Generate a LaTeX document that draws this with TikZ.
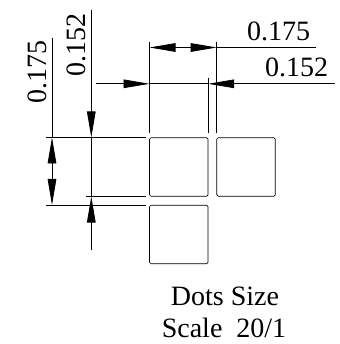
\documentclass[tikz,border=0pt]{standalone}
\usepackage{fontspec}
\setmainfont{Liberation Serif}
\usetikzlibrary{arrows.meta}
\usetikzlibrary{calc}

\tikzset{
  dot/.style={draw, line width=0.7pt, rounded corners=1.5pt, minimum size=58.5pt, inner sep=0pt, outer sep=0pt},
  dim/.style={line width=0.8pt},
  dimarrow/.style={line width=0.8pt, -{Triangle[length=26pt,width=8.6pt]}},
  dimtext/.style={inner sep=0pt, outer sep=0pt, font=\fontsize{28}{32}\selectfont}
}

\begin{document}
\begin{tikzpicture}[x=1pt, y=-1pt]
      \useasboundingbox (0, 0) rectangle (339, 344);

      \node[dot] (1) at (178.75, 167){};
      \node[dot] (2) at (246, 167){};
      \node[dot] (3) at (178.75, 234.5){};

      % left side
      \coordinate (a1) at (46, 137.5);
      \coordinate (a2) at (146, 137.5);
      \coordinate (b1) at (86, 196.5);
      \coordinate (b2) at (146, 196.5);
      \coordinate (c1) at (46, 205);
      \coordinate (c2) at (146, 205);
      \coordinate (d1) at (52, 38);
      \coordinate (d2) at (52, 137.5);
      \coordinate (d3) at (52, 205);
      \coordinate (e1) at (91.3, 10);
      \coordinate (e2) at (91.3, 137.5);
      \coordinate (e3) at (91.3, 196.5);
      \coordinate (e4) at (91.3, 250);

      % top side
      \coordinate (f1) at (149.5, 42);
      \coordinate (f2) at (149.5, 133.5);
      \coordinate (g1) at (208.2, 78);
      \coordinate (g2) at (208.2, 133.5);
      \coordinate (h1) at (216.7, 42);
      \coordinate (h2) at (216.7, 133.5);
      \coordinate (k1) at (149.5, 47.5);
      \coordinate (k2) at (216.7, 47.5);
      \coordinate (k3) at (315.7, 47.5);
      \coordinate (m1) at (96, 83.8);
      \coordinate (m2) at (149.5, 83.8);
      \coordinate (m3) at (208.2, 83.8);
      \coordinate (m4) at (335, 83.8);

      \draw[dim] (a1) -- (a2);
      \draw[dim] (b1) -- (b2);
      \draw[dim] (c1) -- (c2);
      \draw[dim] (f1) -- (f2);
      \draw[dim] (g1) -- (g2);
      \draw[dim] (h1) -- (h2);
      \draw[dim] (d1) -- (d2);
      \draw[dim] (e2) -- (e3);
      \draw[dim] (m2) -- (m3);
      \draw[dim] (k2) -- (k3);

      \draw[dimarrow] (e1) -- (e2);
      \draw[dimarrow] (e4) -- (e3);
      \draw[dimarrow] (m1) -- (m2);
      \draw[dimarrow] (m4) -- (m3);
      \draw[dimarrow] ($(d2)!0.5!(d3)$) -- (d2);
      \draw[dimarrow] ($(d2)!0.5!(d3)$) -- (d3);
      \draw[dimarrow] ($(k1)!0.5!(k2)$) -- (k1);
      \draw[dimarrow] ($(k1)!0.5!(k2)$) -- (k2);

      \node[dimtext, anchor=base west, rotate=90] (4) at (46, 104){0.175};
      \node[dimtext, anchor=base west, rotate=90] (5) at (85, 77){0.152};
      \node[dimtext, anchor=base west] (6) at (247, 41){0.175};
      \node[dimtext, anchor=base west] (7) at (265, 77){0.152};
      \node[dimtext, anchor=base] (8) at (225, 305){Dots Size};
      \node[dimtext, anchor=base] (9) at (224, 337){Scale~~20/1};

    \end{tikzpicture}
\end{document}
